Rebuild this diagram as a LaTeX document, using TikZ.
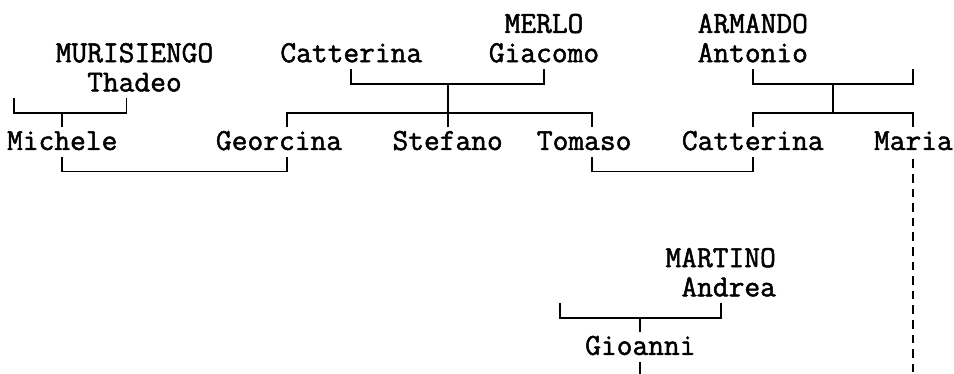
\documentclass[tikz,border=0pt]{standalone}
\usepackage{fontspec}
\newfontfamily\treefont[FakeBold=1.6]{Latin Modern Mono}
\tikzstyle{person}=[inner sep=0pt,text height=22.5pt,text depth=6.7pt,font=\treefont\fontsize{30.59pt}{30pt}\selectfont]
\tikzstyle{tie}=[line width=1.8pt]
\tikzstyle{blood}=[line width=1.8pt,dash pattern=on 8.5pt off 6.1pt,dash phase=12pt]

\begin{document}
\begin{tikzpicture}[x=16.06pt,y=-29.27pt]
  \useasboundingbox (-0.874,-0.854) rectangle (58.529,11.923);
  % grandparents
  \node[person] (mer) at (33,0) {MERLO};
  \node[person] (arm) at (46,0) {ARMANDO};
  \node[person] (mur) at (7.5,1) {MURISIENGO};
  \node[person] (ca1) at (21,1) {Catterina};
  \node[person] (gia) at (33,1) {Giacomo};
  \node[person] (ant) at (46,1) {Antonio};
  \node[person] (tha) at (7.5,2) {Thadeo};
  % children
  \node[person] (mic) at (3,4) {Michele};
  \node[person] (geo) at (16.5,4) {Georcina};
  \node[person] (ste) at (27,4) {Stefano};
  \node[person] (tom) at (35.5,4) {Tomaso};
  \node[person] (ca2) at (46,4) {Catterina};
  \node[person] (mar) at (56,4) {Maria};
  \node[person] (mrt) at (44,8) {MARTINO};
  \node[person] (and) at (44.5,9) {Andrea};
  \node[person] (gio) at (39,11) {Gioanni};
  % unnamed spouses and joints
  \coordinate (sp1) at (0,2.5);
  \coordinate (sp2) at (56,1.5);
  \coordinate (sp3) at (34,9.5);
  \coordinate (jar) at (51,2);
  \coordinate (gioend) at (39,11.923);

  \draw[tie] ([xshift=-8pt]tha.south) -- ++(0,.5) -| (sp1);
  \draw[tie] (mic.north) -- ++(0,-.5);
  \draw[tie] (ca1.south) -- ++(0,.5) -| (gia.south);
  \draw[tie] (ste.north) -- ++(0,-1.5);
  \draw[tie] ([xshift=8pt]geo.north) -- ++(0,-.5) -| ([xshift=8pt]tom.north);
  \draw[tie] (ant.south) -- ++(0,.5) -| (sp2);
  \draw[tie] (jar) -- ++(0,1);
  \draw[tie] (ca2.north) -- ++(0,-.5) -| (mar.north);
  \draw[tie] (mic.south) -- ++(0,.5) -| ([xshift=8pt]geo.south);
  \draw[tie] ([xshift=8pt]tom.south) -- ++(0,.5) -| (ca2.south);
  \draw[tie] ([xshift=-8pt]and.south) -- ++(0,.5) -| (sp3);
  \draw[tie] (gio.north) -- ++(0,-.5);
  \draw[tie] (gio.south) -- (gioend);
  \draw[blood] (mar.south) -- ++(0,7.423);
\end{tikzpicture}
\end{document}
